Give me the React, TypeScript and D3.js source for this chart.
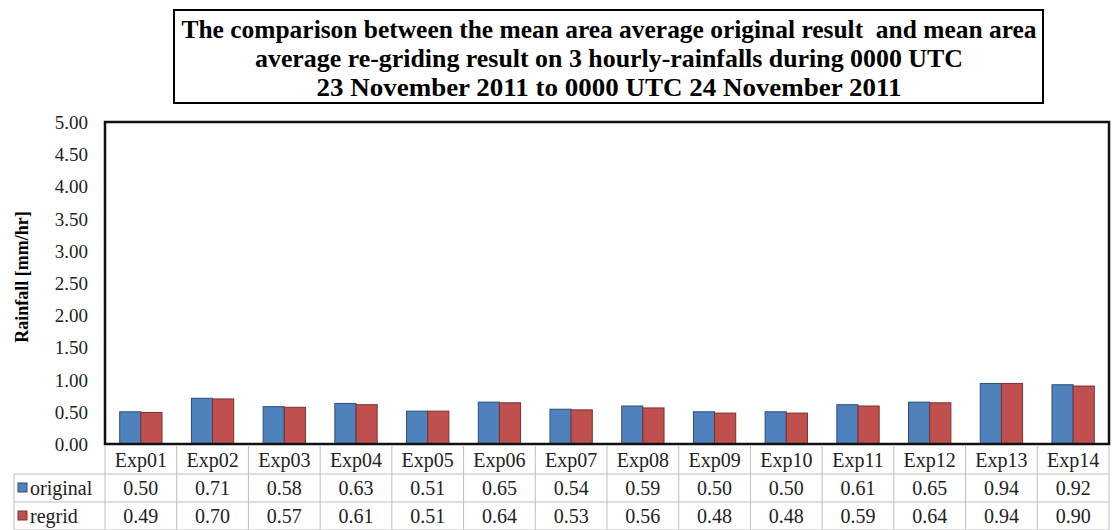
import React from "react";
import * as d3 from "d3";

const categories = ["Exp01", "Exp02", "Exp03", "Exp04", "Exp05", "Exp06", "Exp07", "Exp08", "Exp09", "Exp10", "Exp11", "Exp12", "Exp13", "Exp14"];
const original = [0.5, 0.71, 0.58, 0.63, 0.51, 0.65, 0.54, 0.59, 0.5, 0.5, 0.61, 0.65, 0.94, 0.92];
const regrid = [0.49, 0.7, 0.57, 0.61, 0.51, 0.64, 0.53, 0.56, 0.48, 0.48, 0.59, 0.64, 0.94, 0.9];
const seriesNames = ["original", "regrid"];
const yTicks = [0, 0.5, 1, 1.5, 2, 2.5, 3, 3.5, 4, 4.5, 5];
const titleLines = [
  "The comparison between the mean area average original result  and mean area",
  "average re-griding result on 3 hourly-rainfalls during 0000 UTC",
  "23 November 2011 to 0000 UTC 24 November 2011",
];

const colors = ["#4f81bd", "#c0504d"];
const strokes = ["#2e4d73", "#7a3230"];

const W = 1114;
const H = 530;
const left = 105;
const right = 1109;
const top = 122;
const bottom = 444;
const font = "Liberation Serif";

const App = () => {
  const series = [original, regrid];

  // scales
  const x = d3.scaleBand().domain(categories).range([left, right]).paddingInner(0.41).paddingOuter(0.205);
  const xs = d3.scaleBand().domain(seriesNames).range([0, x.bandwidth()]);
  const y = d3.scaleLinear().domain([0, 5]).range([bottom, top]);

  // table
  const rowH = 28;
  const r0 = 446;
  const grid = "#bfbfbf";
  const colW = (right - left) / categories.length;
  const titleW = [855, 708, 585];

  return (
    <div style={{ position: "absolute", left: 0, top: 0 }}>
      <svg width={W} height={H} style={{ background: "#fff", display: "block" }}>
        {/* title box */}
        <rect x={174} y={10} width={869} height={93} fill="#fff" stroke="#000" strokeWidth={2} />
        {titleLines.map((t, i) => (
          <text key={i} x={609} y={38 + i * 29} textAnchor="middle" fontFamily={font} fontWeight="bold"
            fontSize={25} textLength={titleW[i]} lengthAdjust="spacingAndGlyphs" style={{ whiteSpace: "pre" }}>
            {t}
          </text>
        ))}

        {/* y ticks */}
        {yTicks.map((d) => (
          <text key={d} x={88} y={y(d) + 7} textAnchor="end" fontFamily={font} fontSize={19} fill="#222">
            {d.toFixed(2)}
          </text>
        ))}
        <text transform="translate(28,277) rotate(-90)" textAnchor="middle" fontFamily={font}
          fontWeight="bold" fontSize={18}>
          Rainfall [mm/hr]
        </text>

        {/* bars */}
        {series.map((vals, si) =>
          vals.map((v, i) => (
            <rect key={`${si}-${i}`}
              x={(x(categories[i]) as number) + (xs(seriesNames[si]) as number)}
              y={y(v)} width={xs.bandwidth()} height={bottom - y(v)}
              fill={colors[si]} stroke={strokes[si]} strokeWidth={1} />
          ))
        )}

        {/* plot frame */}
        <rect x={left} y={top} width={right - left} height={bottom - top} fill="none" stroke="#111" strokeWidth={2.5} />

        {/* data table */}
        {[1, 2, 3].map((k) => (
          <line key={k} x1={14} x2={right} y1={r0 + k * rowH} y2={r0 + k * rowH} stroke={grid} />
        ))}
        {d3.range(categories.length + 1).map((i) => (
          <line key={i} x1={left + i * colW} x2={left + i * colW} y1={r0} y2={H} stroke={grid} />
        ))}
        <line x1={14} x2={14} y1={r0 + rowH} y2={H} stroke={grid} />

        {categories.map((c) => (
          <text key={c} x={(x(c) as number) + x.bandwidth() / 2} y={r0 + 21} textAnchor="middle"
            fontFamily={font} fontSize={20} fill="#222">
            {c}
          </text>
        ))}

        {series.map((vals, si) => {
          const ry = r0 + rowH * (si + 1);
          return (
            <g key={si}>
              <rect x={18} y={ry + 9} width={9} height={9} fill={colors[si]} stroke={strokes[si]} />
              <text x={30} y={ry + 21} fontFamily={font} fontSize={20} fill="#222">
                {seriesNames[si]}
              </text>
              {vals.map((v, i) => (
                <text key={i} x={(x(categories[i]) as number) + x.bandwidth() / 2} y={ry + 21}
                  textAnchor="middle" fontFamily={font} fontSize={20} fill="#222">
                  {v.toFixed(2)}
                </text>
              ))}
            </g>
          );
        })}
      </svg>
    </div>
  );
};

export default App;
